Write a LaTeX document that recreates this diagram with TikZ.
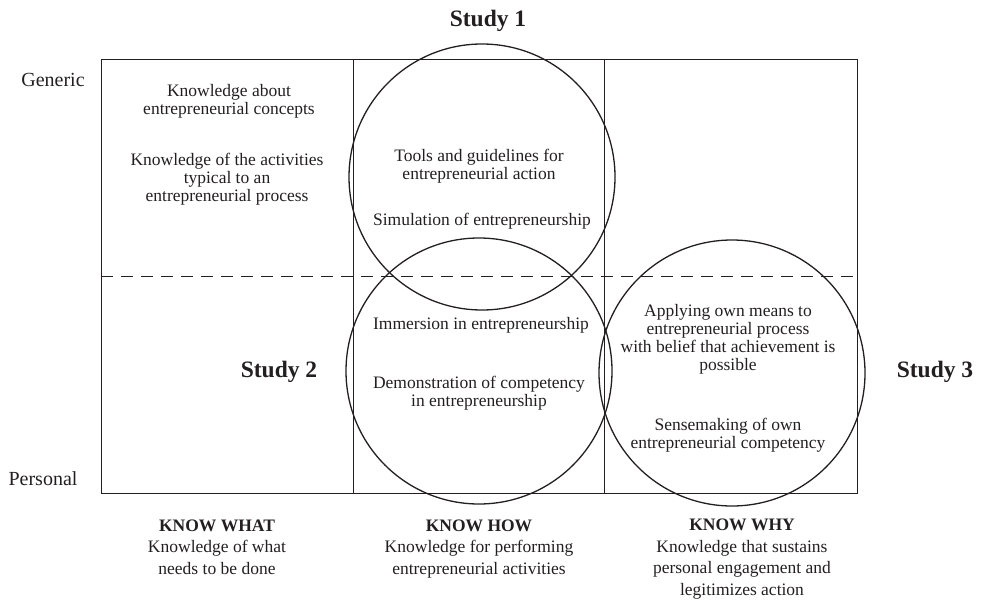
\documentclass[tikz,border=0pt]{standalone}
\usepackage{fontspec}
\setmainfont{Liberation Serif}
\definecolor{ink}{HTML}{231F20}
\begin{document}
\begin{tikzpicture}[x=1pt,y=-1pt,
  every node/.style={inner sep=0pt, text=ink},
  txt/.style={font=\fontsize{17.5}{18}\selectfont, align=center, anchor=base},
  axislabel/.style={font=\fontsize{20}{22}\selectfont, anchor=base},
  foot/.style={font=\fontsize{17.5}{21.5}\selectfont, align=center, anchor=base},
  studylabel/.style={font=\fontsize{23.5}{24}\selectfont\bfseries, anchor=base},
  frame/.style={draw=ink, line width=1pt},
  ring/.style={draw=ink, line width=1.3pt, circle, minimum size=266pt}]
\useasboundingbox (0,0) rectangle (981,599);

% grid of the three columns
\draw[frame] (101,60) rectangle (857,493);
\draw[frame] (353,60) -- (353,493);
\draw[frame] (604,60) -- (604,493);
\draw[draw=ink, line width=0.9pt, dash pattern=on 12pt off 8pt] (101,276) -- (857,276);

% the three studies
\node[ring] (s1) at (482,177) {};
\node[ring] (s2) at (479,371) {};
\node[ring] (s3) at (732,373) {};

% axis labels
\node[axislabel] (gen) at (53,87) {Generic};
\node[axislabel] (per) at (43,485) {Personal};

% study labels
\node[studylabel] (l1) at (488,27) {Study 1};
\node[studylabel] (l2) at (279,377) {Study 2};
\node[studylabel] (l3) at (935,377) {Study 3};

% know what column (anchors sit on the last line)
\node[txt] (kw1) at (229,114.5) {Knowledge about\\entrepreneurial concepts};
\node[txt] (kw2) at (227,201) {Knowledge of the activities\\typical to an\\entrepreneurial process};

% know how column
\node[txt] (kh1) at (479,179) {Tools and guidelines for\\entrepreneurial action};
\node[txt] (kh2) at (482,225) {Simulation of entrepreneurship};
\node[txt] (kh3) at (481,329) {Immersion in entrepreneurship};
\node[txt] (kh4) at (479,406) {Demonstration of competency\\in entrepreneurship};

% know why column
\node[txt] (ky1) at (728,370) {Applying own means to\\entrepreneurial process\\with belief that achievement is\\possible};
\node[txt] (ky2) at (728,448) {Sensemaking of own\\entrepreneurial competency};

% column captions
\node[foot] (fw) at (217,574) {\textbf{KNOW WHAT}\\Knowledge of what\\needs to be done};
\node[foot] (fh) at (479,574) {\textbf{KNOW HOW}\\Knowledge for performing\\entrepreneurial activities};
\node[foot] (fy) at (742,595) {\textbf{KNOW WHY}\\Knowledge that sustains\\personal engagement and\\legitimizes action};
\end{tikzpicture}
\end{document}
